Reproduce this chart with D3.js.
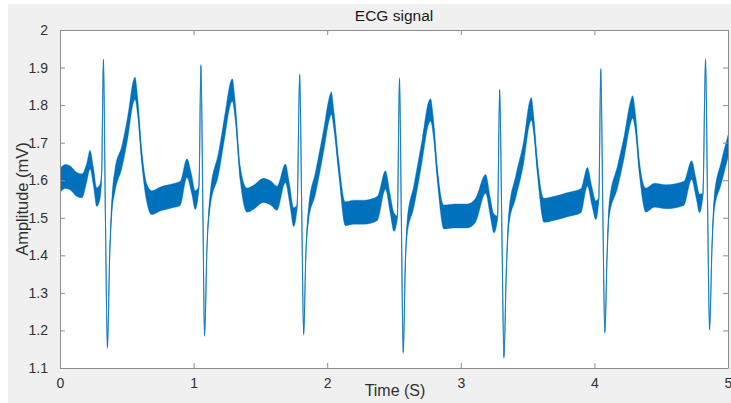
<!DOCTYPE html>
<html>
<head>
<meta charset="utf-8">
<script src="https://cdn.jsdelivr.net/npm/d3@7"></script>
<style>
  html, body { margin: 0; padding: 0; background: #ffffff; }
  svg { display: block; font-family: "Liberation Sans", Arial, Helvetica, sans-serif; }
</style>
</head>
<body>
<svg id="chart" width="731" height="403"></svg>
<script>
// ---- data ----
const chartTitle = "ECG signal";
const xLabel = "Time (S)";
const yLabel = "Amplitude (mV)";
const xTicks = [0, 1, 2, 3, 4, 5];
const yTicks = [1.1, 1.2, 1.3, 1.4, 1.5, 1.6, 1.7, 1.8, 1.9, 2];

// time (s)
const times = [
  0.000, 0.040, 0.080, 0.120, 0.165, 0.200, 0.225, 0.250, 0.275, 0.300,
  0.312, 0.325, 0.340, 0.355, 0.372, 0.388, 0.412, 0.463, 0.512, 0.545,
  0.562, 0.580, 0.612, 0.650, 0.687, 0.750, 0.800, 0.860, 0.900, 0.950,
  0.985, 1.012, 1.040, 1.055, 1.070, 1.082, 1.100, 1.124, 1.187, 1.237,
  1.275, 1.290, 1.310, 1.349, 1.400, 1.450, 1.524, 1.580, 1.624, 1.687,
  1.720, 1.749, 1.775, 1.794, 1.810, 1.824, 1.840, 1.861, 1.912, 1.974,
  2.015, 2.031, 2.050, 2.086, 2.136, 2.200, 2.280, 2.376, 2.436, 2.470,
  2.499, 2.525, 2.541, 2.555, 2.569, 2.585, 2.599, 2.648, 2.711, 2.760,
  2.774, 2.795, 2.824, 2.873, 2.950, 3.050, 3.111, 3.186, 3.220, 3.248,
  3.275, 3.291, 3.307, 3.323, 3.340, 3.361, 3.411, 3.473, 3.515, 3.528,
  3.545, 3.573, 3.623, 3.700, 3.800, 3.898, 3.948, 3.980, 4.011, 4.033,
  4.048, 4.063, 4.078, 4.095, 4.110, 4.173, 4.223, 4.270, 4.286, 4.305,
  4.336, 4.385, 4.450, 4.535, 4.670, 4.728, 4.760, 4.787, 4.812, 4.832,
  4.847, 4.862, 4.880, 4.897, 4.948, 5.000
];
// amplitude (mV), centre of the noisy trace
const amplitude = [
  1.600, 1.610, 1.605, 1.590, 1.585, 1.620, 1.655, 1.610, 1.555, 1.570,
  1.620, 1.920, 1.500, 1.155, 1.400, 1.530, 1.600, 1.662, 1.752, 1.830,
  1.845, 1.800, 1.662, 1.565, 1.540, 1.550, 1.555, 1.560, 1.565, 1.632,
  1.590, 1.547, 1.580, 1.905, 1.500, 1.187, 1.420, 1.547, 1.645, 1.752,
  1.830, 1.840, 1.790, 1.618, 1.547, 1.555, 1.573, 1.565, 1.552, 1.618,
  1.560, 1.502, 1.530, 1.880, 1.500, 1.190, 1.400, 1.511, 1.592, 1.707,
  1.790, 1.805, 1.760, 1.636, 1.511, 1.515, 1.515, 1.525, 1.600, 1.540,
  1.489, 1.500, 1.870, 1.500, 1.142, 1.380, 1.475, 1.556, 1.680, 1.780,
  1.787, 1.740, 1.618, 1.502, 1.505, 1.505, 1.520, 1.590, 1.530, 1.485,
  1.500, 1.840, 1.480, 1.129, 1.350, 1.502, 1.582, 1.680, 1.780, 1.790,
  1.750, 1.636, 1.520, 1.525, 1.535, 1.545, 1.609, 1.560, 1.520, 1.550,
  1.895, 1.520, 1.195, 1.400, 1.520, 1.609, 1.689, 1.780, 1.795, 1.760,
  1.636, 1.547, 1.560, 1.556, 1.565, 1.627, 1.580, 1.538, 1.560, 1.920,
  1.540, 1.204, 1.420, 1.538, 1.618, 1.690
];
// half-width of the noise band around the trace (mV)
const spread = [
  0.032, 0.032, 0.032, 0.032, 0.032, 0.025, 0.025, 0.025, 0.025, 0.020,
  0.005, 0.003, 0.003, 0.003, 0.005, 0.020, 0.030, 0.030, 0.030, 0.030,
  0.030, 0.025, 0.020, 0.025, 0.032, 0.032, 0.032, 0.032, 0.032, 0.025,
  0.025, 0.025, 0.005, 0.003, 0.003, 0.003, 0.005, 0.020, 0.030, 0.030,
  0.030, 0.030, 0.025, 0.020, 0.032, 0.032, 0.032, 0.032, 0.032, 0.025,
  0.025, 0.025, 0.005, 0.003, 0.003, 0.003, 0.005, 0.020, 0.030, 0.030,
  0.030, 0.030, 0.025, 0.020, 0.032, 0.032, 0.032, 0.032, 0.025, 0.025,
  0.025, 0.005, 0.003, 0.003, 0.003, 0.005, 0.020, 0.030, 0.030, 0.030,
  0.030, 0.025, 0.020, 0.032, 0.032, 0.032, 0.032, 0.025, 0.025, 0.025,
  0.005, 0.003, 0.003, 0.003, 0.005, 0.020, 0.030, 0.030, 0.030, 0.030,
  0.025, 0.020, 0.032, 0.032, 0.032, 0.032, 0.025, 0.025, 0.025, 0.005,
  0.003, 0.003, 0.003, 0.005, 0.020, 0.030, 0.030, 0.030, 0.030, 0.025,
  0.020, 0.032, 0.032, 0.032, 0.032, 0.025, 0.025, 0.025, 0.005, 0.003,
  0.003, 0.003, 0.005, 0.020, 0.030, 0.030
];

// ---- layout ----
const W = 731, H = 403;
const padL = 60, padR = 728, padT = 30, padB = 368;
const lineColor = "#0072BD";
const axisColor = "#8c8c8c";
const textColor = "#303030";

const svg = d3.select("#chart");

// figure background (MATLAB grey)
svg.append("rect").attr("x", 8).attr("y", 4).attr("width", W - 8).attr("height", H - 4)
  .attr("fill", "#f0f0f0");
// axes background
svg.append("rect").attr("x", padL).attr("y", padT).attr("width", padR - padL).attr("height", padB - padT)
  .attr("fill", "#ffffff");

const x = d3.scaleLinear().domain([0, 5]).range([padL, padR]);
const y = d3.scaleLinear().domain([1.1, 2]).range([padB, padT]);

const data = times.map((t, i) => ({ t, v: amplitude[i], s: spread[i] }));

svg.append("clipPath").attr("id", "clip")
  .append("rect").attr("x", padL).attr("y", padT).attr("width", padR - padL).attr("height", padB - padT);

const plot = svg.append("g").attr("clip-path", "url(#clip)");

// noise band
plot.append("path")
  .datum(data)
  .attr("fill", lineColor)
  .attr("stroke", lineColor)
  .attr("stroke-width", 0.6)
  .attr("stroke-opacity", 0.6)
  .attr("stroke-linejoin", "round")
  .attr("d", d3.area().curve(d3.curveMonotoneX).x(d => x(d.t)).y0(d => y(d.v - d.s)).y1(d => y(d.v + d.s)));

// centre trace
plot.append("path")
  .datum(data)
  .attr("fill", "none")
  .attr("stroke", lineColor)
  .attr("stroke-width", 1.1)
  .attr("stroke-opacity", 0.75)
  .attr("stroke-linejoin", "round")
  .attr("d", d3.line().curve(d3.curveMonotoneX).x(d => x(d.t)).y(d => y(d.v)));

// axes (MATLAB style: box with inward ticks on all sides)
const fmt = d => String(+d.toFixed(1));
const tickLen = 5;

const gB = svg.append("g").attr("transform", `translate(0,${padB})`)
  .call(d3.axisBottom(x).tickValues(xTicks).tickFormat(fmt).tickSizeInner(-tickLen).tickSizeOuter(0).tickPadding(10));
const gT = svg.append("g").attr("transform", `translate(0,${padT})`)
  .call(d3.axisTop(x).tickValues(xTicks).tickFormat("").tickSizeInner(-tickLen).tickSizeOuter(0));
const gL = svg.append("g").attr("transform", `translate(${padL},0)`)
  .call(d3.axisLeft(y).tickValues(yTicks).tickFormat(fmt).tickSizeInner(-tickLen).tickSizeOuter(0).tickPadding(12));
const gR = svg.append("g").attr("transform", `translate(${padR},0)`)
  .call(d3.axisRight(y).tickValues(yTicks).tickFormat("").tickSizeInner(-tickLen).tickSizeOuter(0));

[gB, gT, gL, gR].forEach(g => {
  g.select(".domain").attr("stroke", axisColor).attr("stroke-width", 1);
  g.selectAll(".tick line").attr("stroke", axisColor);
  g.selectAll(".tick text").attr("fill", textColor).attr("font-size", 14)
    .attr("font-family", "'Liberation Sans', Arial, sans-serif");
});

// title and labels
svg.append("text").attr("x", (padL + padR) / 2).attr("y", 21)
  .attr("text-anchor", "middle").attr("font-size", 15.5).attr("fill", "#1a1a1a")
  .text(chartTitle);
svg.append("text").attr("x", (padL + padR) / 2 + 1).attr("y", 396)
  .attr("text-anchor", "middle").attr("font-size", 16).attr("fill", textColor)
  .text(xLabel);
svg.append("text")
  .attr("transform", `translate(28,${(padT + padB) / 2}) rotate(-90)`)
  .attr("text-anchor", "middle").attr("font-size", 16.5).attr("fill", textColor)
  .text(yLabel);
</script>
</body>
</html>
